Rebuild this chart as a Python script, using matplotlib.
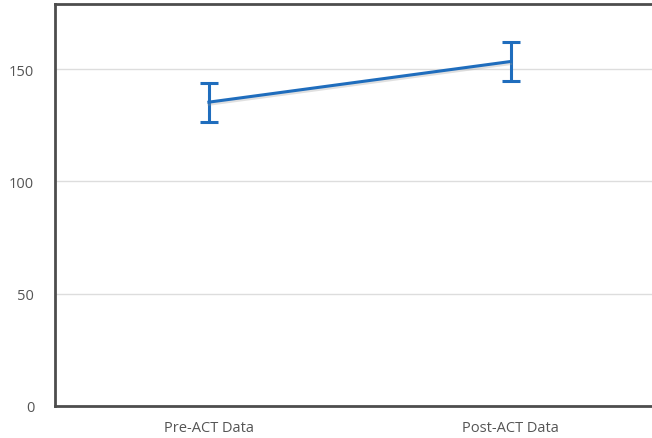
import numpy as np
import matplotlib.pyplot as plt
import matplotlib.patheffects as pe

plt.rcParams['font.family'] = ['Open Sans', 'DejaVu Sans']

groups = ['Pre-ACT Data', 'Post-ACT Data']
means = [135.3, 153.4]
errors = [8.7, 8.7]

fig = plt.figure(figsize=(6.52, 4.39), dpi=100)
ax = fig.add_axes([55 / 652, 1 - 407 / 439, 1 - 55 / 652 + 0.01, 402 / 439])

x = np.arange(len(groups))
line, caps, bars = ax.errorbar(x, means, yerr=errors, color='#1f6dbd', lw=2.2,
                               elinewidth=2.2, capsize=6.5, capthick=2.2, zorder=3)
line.set_path_effects([pe.SimpleLineShadow(offset=(0, -1.5), shadow_color='#999999', alpha=0.3),
                       pe.Normal()])

ax.set_xlim(-0.51, 1.49)
ax.set_ylim(0, 179)
ax.set_yticks([0, 50, 100, 150])
ax.set_xticks(x)
ax.set_xticklabels(groups)

ax.grid(axis='y', color='#dddddd', lw=1)
ax.set_axisbelow(True)
for side in ['left', 'top', 'bottom']:
    ax.spines[side].set_color('#4d4d4d')
    ax.spines[side].set_linewidth(2)
ax.spines['right'].set_visible(False)
ax.tick_params(length=0, colors='#555555', labelsize=10.5, pad=10)
ax.tick_params(axis='y', pad=15)

fig.savefig('out.png', dpi=100)
